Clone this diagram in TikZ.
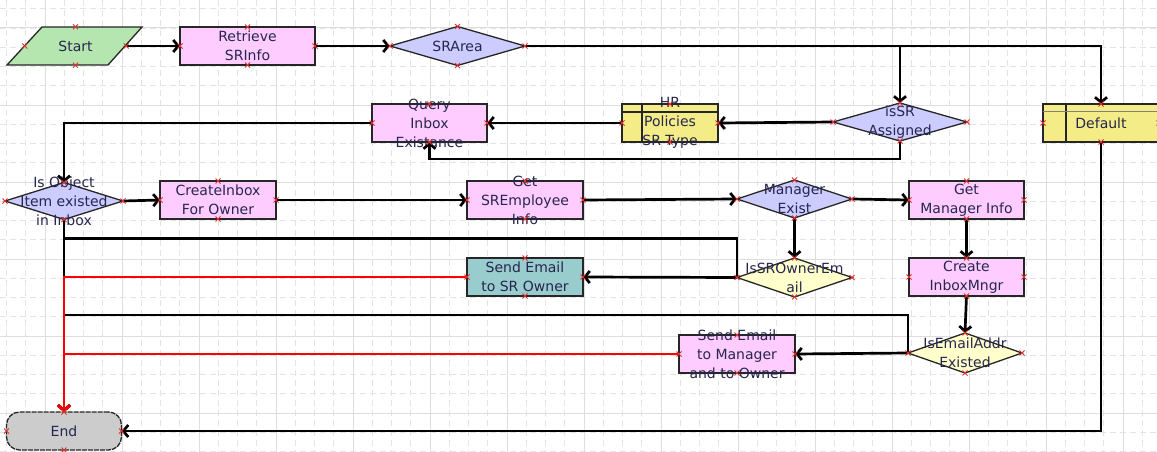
\documentclass[tikz,border=0pt]{standalone}
\usepackage{fontspec}
\setmainfont{DejaVu Sans}
\usetikzlibrary{shapes.geometric,arrows.meta,calc}
\definecolor{cgreen}{HTML}{B5E6B0}
\definecolor{cpink}{HTML}{FFCCFF}
\definecolor{clav}{HTML}{CCCCFF}
\definecolor{cyel}{HTML}{F4EC86}
\definecolor{clyel}{HTML}{FFFFCC}
\definecolor{cteal}{HTML}{99CCCC}
\definecolor{cgrey}{HTML}{CCCCCC}
\definecolor{ctxt}{HTML}{26264E}
\definecolor{cgrid}{HTML}{DEDEDE}
\definecolor{cgridm}{HTML}{E4E4E4}
\definecolor{cred}{HTML}{FF0000}
\definecolor{cmark}{HTML}{E03030}
\begin{document}
\begin{tikzpicture}[x=1pt,y=-1pt,
  shp/.style={draw=black!85, line width=1.3pt, inner sep=0pt, outer sep=0pt},
  procbox/.style={shp, rectangle, fill=cpink, minimum width=116pt, minimum height=38pt},
  decbox/.style={shp, diamond, fill=clav, minimum width=116pt, minimum height=38pt},
  lbl/.style={font=\fontsize{14}{19}\selectfont, text=ctxt, align=center, inner sep=0pt},
  conn/.style={line width=2.7pt, black, -{Straight Barb[length=5pt,width=12pt]}},
  rconn/.style={line width=2.7pt, cred, -{Straight Barb[length=5pt,width=12pt]}},
  mk/.style={cmark, line width=0.8pt}
]
\useasboundingbox (0,0) rectangle (1157,452);
\clip (0,0) rectangle (1157,452);
\fill[white] (0,0) rectangle (1157,452);
% grid
\foreach \k in {-2,...,58} {
  \draw[cgridm, line width=0.9pt, dash pattern=on 6pt off 4pt] ({45+19.25*\k},0) -- ({45+19.25*\k},452);
}
\foreach \k in {-2,...,23} {
  \draw[cgridm, line width=0.9pt, dash pattern=on 6pt off 4pt] (0,{28+19.25*\k}) -- (1157,{28+19.25*\k});
}
\foreach \k in {0,...,14} {
  \draw[cgrid, line width=1pt] ({45+77*\k},0) -- ({45+77*\k},452);
}
\foreach \k in {0,...,5} {
  \draw[cgrid, line width=1pt] (0,{28+77*\k}) -- (1157,{28+77*\k});
}

% nodes
\fill[cgreen] (42,27) -- (142,27) -- (108,65) -- (7,65) -- cycle;
\draw[black!85, line width=1.3pt] (42,27) -- (142,27) -- (108,65) -- (7,65) -- cycle;
\node[inner sep=0pt, minimum width=101pt, minimum height=38pt] (Start) at (75.5,46) {};
\node[procbox, minimum width=135pt] (Retrieve) at (247.5,46) {};
\node[decbox, minimum width=135pt, minimum height=39pt] (SRArea) at (457.5,46) {};
\node[procbox, minimum width=115pt] (Query) at (429.5,123) {};
\node[procbox, fill=cyel, minimum width=96pt] (HR) at (670,123) {};
\draw[black!85, line width=1.3pt] ($(HR.north west)+(20,0)$) -- ($(HR.south west)+(20,0)$);
\draw[black!85, line width=1.3pt] ($(HR.north west)+(0,8)$) -- ($(HR.north east)+(0,8)$);
\node[decbox, minimum width=134pt] (isSR) at (900,122) {};
\node[procbox, fill=cyel] (Default) at (1101,123) {};
\draw[black!85, line width=1.3pt] ($(Default.north west)+(23,0)$) -- ($(Default.south west)+(23,0)$);
\draw[black!50, line width=0.8pt] ($(Default.north west)+(0,7)$) -- ($(Default.north east)+(0,7)$);
\node[decbox, minimum width=118pt, minimum height=37pt] (IsObj) at (64,201) {};
\node[procbox] (CreateInbox) at (218,200) {};
\node[procbox] (GetSR) at (525,200) {};
\node[decbox, minimum width=115pt] (MgrExist) at (794.5,199) {};
\node[procbox, minimum width=115pt] (GetMgr) at (966.5,200) {};
\node[decbox, fill=clyel, minimum width=115pt, minimum height=39pt] (IsSROwner) at (794.5,277.5) {};
\node[procbox, fill=cteal] (SendSR) at (525,277) {};
\node[procbox, minimum width=115pt] (CreateMgr) at (966.5,277) {};
\node[decbox, fill=clyel, minimum width=114pt, minimum height=40pt] (IsEmail) at (965,353) {};
\node[procbox] (SendMgr) at (737,354) {};
\node[shp, rectangle, rounded corners=13pt, fill=cgrey, dash pattern=on 5pt off 1pt, minimum width=115pt, minimum height=38pt] (End) at (64,431) {};

% labels
\node[lbl] (tStart) at (Start.center) {Start};
\node[lbl] (tRetrieve) at (Retrieve.center) {Retrieve\\SRInfo};
\node[lbl] (tSRArea) at (SRArea.center) {SRArea};
\node[lbl] (tQuery) at (Query.center) {Query\\Inbox\\Existance};
\node[lbl] (tHR) at (HR.center) {HR\\Policies\\SR Type};
\node[lbl] (tisSR) at (isSR.center) {isSR\\Assigned};
\node[lbl] (tDefault) at (Default.center) {Default};
\node[lbl] (tIsObj) at (IsObj.center) {Is Object\\Item existed\\in Inbox};
\node[lbl] (tCreateInbox) at (CreateInbox.center) {CreateInbox\\For Owner};
\node[lbl] (tGetSR) at (GetSR.center) {Get\\SREmployee\\Info};
\node[lbl] (tMgrExist) at (MgrExist.center) {Manager\\Exist};
\node[lbl] (tGetMgr) at (GetMgr.center) {Get\\Manager Info};
\node[lbl] (tIsSROwner) at (IsSROwner.center) {IsSROwnerEm\\ail};
\node[lbl] (tSendSR) at (SendSR.center) {Send Email\\to SR Owner};
\node[lbl] (tCreateMgr) at (CreateMgr.center) {Create\\InboxMngr};
\node[lbl] (tIsEmail) at (IsEmail.center) {IsEmailAddr\\Existed};
\node[lbl] (tSendMgr) at (SendMgr.center) {Send Email\\to Manager\\and to Owner};
\node[lbl] (tEnd) at (End.center) {End};

% connectors (black)
\draw[conn] (Start.east) -- (Retrieve.west);
\draw[conn] (Retrieve.east) -- (SRArea.west);
\draw[conn] (SRArea.east) -| (Default.north);
\draw[conn] (SRArea.east) -| (isSR.north);
\draw[conn] (isSR.west) -- (HR.east);
\draw[conn] (HR.west) -- (Query.east);
\draw[conn] (isSR.south) -- ++(0,18) -| (Query.south);
\draw[conn] (Query.west) -| (IsObj.north);
\draw[conn] (IsObj.east) -- (CreateInbox.west);
\draw[conn] (CreateInbox.east) -- (GetSR.west);
\draw[conn] (GetSR.east) -- (MgrExist.west);
\draw[conn] (MgrExist.east) -- (GetMgr.west);
\draw[conn] (MgrExist.south) -- (IsSROwner.north);
\draw[conn] (GetMgr.south) -- (CreateMgr.north);
\draw[conn] (CreateMgr.south) -- (IsEmail.north);
\draw[conn] (IsSROwner.west) -- (SendSR.east);
\draw[conn] (IsEmail.west) -- (SendMgr.east);
\draw[conn] (IsObj.south) -- (End.north);
\draw[conn] (IsSROwner.west) -- ++(0,-39) -| (End.north);
\draw[conn] (IsEmail.west) -- ++(0,-38) -| (End.north);
\draw[conn] (Default.south) |- (End.east);
% connectors (red)
\draw[rconn] (SendSR.west) -| (End.north);
\draw[rconn] (SendMgr.west) -| (End.north);

% connection point markers
\foreach \n in {Start,Retrieve,SRArea,Query,HR,isSR,Default,IsObj,CreateInbox,GetSR,MgrExist,GetMgr,IsSROwner,SendSR,CreateMgr,IsEmail,SendMgr,End} {
  \foreach \a in {north,south,east,west} {
    \draw[mk] (\n.\a) +(-2.5,-2.5) -- +(2.5,2.5) +(-2.5,2.5) -- +(2.5,-2.5);
  }
}
\end{tikzpicture}
\end{document}
